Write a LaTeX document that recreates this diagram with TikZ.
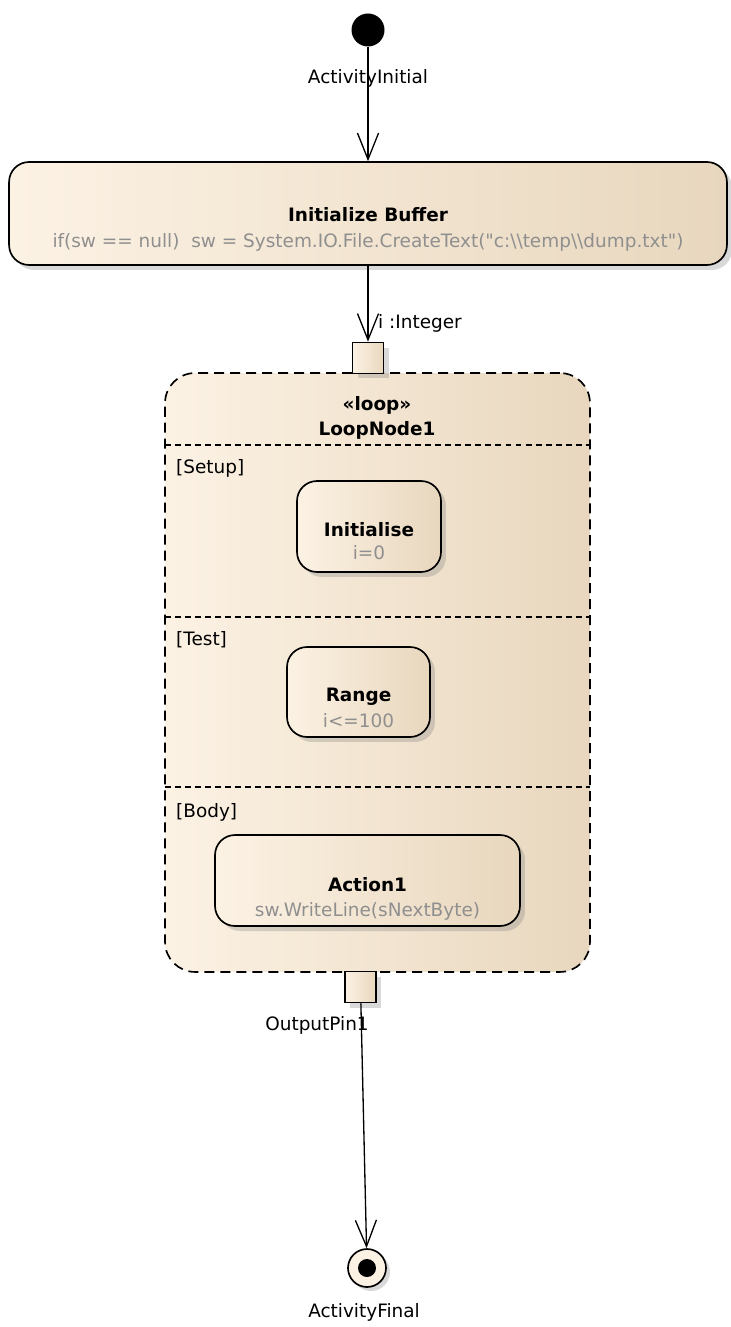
\documentclass[tikz,border=0pt]{standalone}
\usepackage{fontspec}
\setmainfont{DejaVu Sans}
\setmonofont{DejaVu Sans}
\usetikzlibrary{arrows.meta,positioning,shadows}
\definecolor{actlight}{HTML}{FCF2E4}
\definecolor{actdark}{HTML}{E8D7BE}
\definecolor{codegray}{HTML}{8F8F8F}

\begin{document}
\begin{tikzpicture}[x=0.02cm, y=-0.02cm, font=\fontsize{10.5}{12}\selectfont,
    >={Straight Barb[length=15pt,width=12pt,line width=0.75pt]},
    flow/.style={->, line width=0.75pt},
    action/.style={draw, line width=0.95pt, rounded corners=0.4cm, left color=actlight, right color=actdark,
      drop shadow={shadow xshift=0.1cm, shadow yshift=-0.1cm, opacity=0.3}},
    pinbox/.style={draw, line width=0.95pt, minimum size=0.62cm, inner sep=0pt, left color=actlight, right color=actdark,
      drop shadow={shadow xshift=0.1cm, shadow yshift=-0.1cm, opacity=0.3}},
    title/.style={font=\fontsize{10.5}{12}\selectfont\bfseries},
    code/.style={text=codegray, font=\fontsize{10.5}{12}\selectfont\ttfamily},
    sep/.style={line width=0.8pt, dash pattern=on 3.4pt off 2.3pt}]
  \useasboundingbox (0,0) rectangle (730,1327);

  % start
  \node[circle, fill=black, minimum size=0.66cm, inner sep=0pt] (init) at (368,30) {};
  \node (initL) at (368,78) {ActivityInitial};

  % buffer action
  \node[action, minimum width=14.36cm, minimum height=2.06cm] (buf) at (368,213.5) {};
  \node[title] (bufT) at (368,215) {Initialize Buffer};
  \node[code] (bufC) at (368,242) {if(sw == null)\ \ sw = System.IO.File.CreateText("c:\textbackslash\textbackslash temp\textbackslash\textbackslash dump.txt")};
  \draw[flow] (init) -- (buf);

  % loop node
  \node[draw, line width=0.95pt, dash pattern=on 5.7pt off 3.4pt, rounded corners=0.6cm, left color=actlight, right color=actdark,
    minimum width=8.5cm, minimum height=11.98cm] (loop) at (377.5,672.5) {};
  \node[title] (loopS) at (377,405) {«loop»};
  \node[title] (loopT) at (377,430) {LoopNode1};
  \draw[sep] (165,445) -- (590,445);
  \draw[sep] (165,617) -- (590,617);
  \draw[sep] (165,787) -- (590,787);

  % setup
  \node[anchor=west] (setupL) at (170,468) {[Setup]};
  \node[action, minimum width=2.88cm, minimum height=1.82cm] (ini) at (369,526.5) {};
  \node[title] (iniT) at (369,530) {Initialise};
  \node[code] (iniC) at (369,553) {i=0};

  % test
  \node[anchor=west] (testL) at (170,640) {[Test]};
  \node[action, minimum width=2.86cm, minimum height=1.8cm] (range) at (358.5,692) {};
  \node[title] (rangeT) at (358.5,697) {Range};
  \node[code] (rangeC) at (358.5,721) {i<=100};

  % body
  \node[anchor=west] (bodyL) at (170,812) {[Body]};
  \node[action, minimum width=6.1cm, minimum height=1.82cm] (act) at (367.5,880.5) {};
  \node[title] (actT) at (367.5,885) {Action1};
  \node[code] (actC) at (367.5,911) {sw.WriteLine(sNextByte)};

  % pins
  \node[pinbox] (pinIn) at (368,358) {};
  \node[anchor=west] (pinInL) at (372,323) {i :Integer};
  \draw[flow] (buf) -- (pinIn);
  \node[pinbox] (pinOut) at (360.5,987) {};
  \node (pinOutL) at (317,1025) {OutputPin1};

  % end
  \node[circle, draw, line width=0.95pt, fill=actlight, minimum size=0.76cm, inner sep=0pt,
    drop shadow={shadow xshift=0.08cm, shadow yshift=-0.08cm, opacity=0.3},
    path picture={\fill[black] (path picture bounding box.center) circle (0.18cm);}] (final) at (367,1268) {};
  \node (finalL) at (364,1312) {ActivityFinal};
  \draw[flow] (pinOut) -- (final);
\end{tikzpicture}
\end{document}
